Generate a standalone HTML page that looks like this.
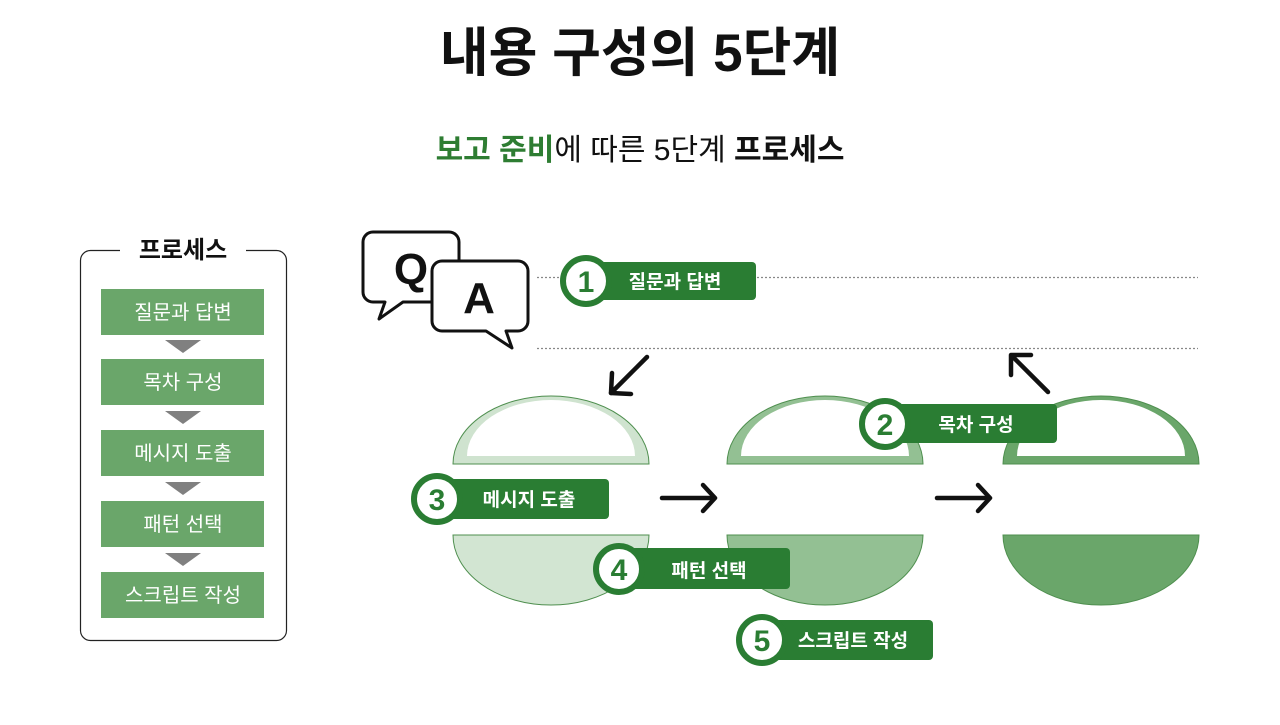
<!DOCTYPE html>
<html><head><meta charset="utf-8"><style>
body{margin:0;width:1280px;height:720px;background:#fff;overflow:hidden;font-family:"Liberation Sans","Noto Sans CJK KR",sans-serif;}
</style></head><body>
<svg width="1280" height="720" xmlns="http://www.w3.org/2000/svg" font-family="Liberation Sans, Noto Sans CJK KR, sans-serif">
<text x="640" y="71" text-anchor="middle" font-size="53" font-weight="bold" fill="#111">내용 구성의 5단계</text>
<text x="640" y="160" text-anchor="middle" font-size="30" fill="#111"><tspan font-weight="bold" fill="#2e7d32">보고 준비</tspan>에 따른 5단계 <tspan font-weight="bold">프로세스</tspan></text>

<!-- left panel -->
<rect x="80.5" y="250.5" width="206" height="390" rx="10" fill="none" stroke="#222" stroke-width="1.2"/>
<rect x="120" y="238" width="126" height="26" fill="#fff"/>
<text x="183" y="258" text-anchor="middle" font-size="24" font-weight="bold" fill="#111">프로세스</text>
<g fill="#6aa66a">
<rect x="101" y="289" width="163" height="46"/><rect x="101" y="359" width="163" height="46"/><rect x="101" y="430" width="163" height="46"/><rect x="101" y="501" width="163" height="46"/><rect x="101" y="572" width="163" height="46"/>
</g>
<g fill="#808080">
<polygon points="165,340 201,340 183,353"/><polygon points="165,411 201,411 183,424"/><polygon points="165,482 201,482 183,495"/><polygon points="165,553 201,553 183,566"/>
</g>
<g fill="#fff" font-size="20" text-anchor="middle">
<text x="183" y="319">질문과 답변</text><text x="183" y="389">목차 구성</text><text x="183" y="460">메시지 도출</text><text x="183" y="531">패턴 선택</text><text x="183" y="602">스크립트 작성</text>
</g>

<!-- dotted lines -->
<line x1="537" y1="277.5" x2="1198" y2="277.5" stroke="#888" stroke-width="1.3" stroke-dasharray="2,2"/>
<line x1="537" y1="348.5" x2="1198" y2="348.5" stroke="#888" stroke-width="1.3" stroke-dasharray="2,2"/>

<!-- QA bubbles -->
<g stroke="#111" stroke-width="3" fill="#fff" stroke-linejoin="round">
<path d="M373,232 h76 a10,10 0 0 1 10,10 v50 a10,10 0 0 1 -10,10 h-46 l-24,17 l6,-17 h-12 a10,10 0 0 1 -10,-10 v-50 a10,10 0 0 1 10,-10z"/>
<path d="M442,261 h76 a10,10 0 0 1 10,10 v50 a10,10 0 0 1 -10,10 h-12 l6,17 l-26,-17 h-44 a10,10 0 0 1 -10,-10 v-50 a10,10 0 0 1 10,-10z"/>
</g>
<text x="411" y="284" text-anchor="middle" font-size="44" font-weight="bold" fill="#111">Q</text>
<text x="479" y="313" text-anchor="middle" font-size="44" font-weight="bold" fill="#111">A</text>

<!-- shapes -->
<g stroke="#4f8f4f" stroke-width="1">
<path d="M453,464 A98,68 0 0 1 649,464 Z" fill="#cfe3cf"/>
<path d="M467,456 A84,56 0 0 1 635,456 Z" fill="#fff" stroke="none"/>
<path d="M453,535 A98,70 0 0 0 649,535 Z" fill="#d2e5d2"/>
<path d="M727,464 A98,68 0 0 1 923,464 Z" fill="#93c093"/>
<path d="M741,456 A84,56 0 0 1 909,456 Z" fill="#fff" stroke="none"/>
<path d="M727,535 A98,70 0 0 0 923,535 Z" fill="#93c093"/>
<path d="M1003,464 A98,68 0 0 1 1199,464 Z" fill="#6aa66a"/>
<path d="M1017,456 A84,56 0 0 1 1185,456 Z" fill="#fff" stroke="none"/>
<path d="M1003,535 A98,70 0 0 0 1199,535 Z" fill="#6aa66a"/>
</g>

<!-- arrows -->
<g stroke="#111" stroke-width="4.5" fill="none" stroke-linecap="round" stroke-linejoin="round">
<line x1="647" y1="357" x2="611" y2="393"/><polyline points="612,373 611,393 631,394"/>
<line x1="1048" y1="392" x2="1012" y2="356"/><polyline points="1011,375 1011,355 1031,355"/>
<line x1="662" y1="498" x2="714" y2="498"/><polyline points="703,485 715,498 703,511"/>
<line x1="937" y1="498" x2="989" y2="498"/><polyline points="978,485 990,498 978,511"/>
</g>

<!-- labels -->
<g font-weight="bold">
<rect x="586" y="262" width="170" height="38" rx="4" fill="#2a7d33"/>
<circle cx="586" cy="281" r="23" fill="#fff" stroke="#2a7d33" stroke-width="6"/>
<text x="586" y="292" text-anchor="middle" font-size="30" fill="#2a7d33">1</text>
<text x="675" y="288" text-anchor="middle" font-size="19" fill="#fff">질문과 답변</text>

<rect x="885" y="404" width="172" height="39" rx="4" fill="#2a7d33"/>
<circle cx="885" cy="424" r="23" fill="#fff" stroke="#2a7d33" stroke-width="6"/>
<text x="885" y="435" text-anchor="middle" font-size="30" fill="#2a7d33">2</text>
<text x="976" y="431" text-anchor="middle" font-size="19" fill="#fff">목차 구성</text>

<rect x="437" y="479" width="172" height="40" rx="4" fill="#2a7d33"/>
<circle cx="437" cy="499" r="23" fill="#fff" stroke="#2a7d33" stroke-width="6"/>
<text x="437" y="510" text-anchor="middle" font-size="30" fill="#2a7d33">3</text>
<text x="529" y="506" text-anchor="middle" font-size="19" fill="#fff">메시지 도출</text>

<rect x="619" y="548" width="171" height="41" rx="4" fill="#2a7d33"/>
<circle cx="619" cy="569" r="23" fill="#fff" stroke="#2a7d33" stroke-width="6"/>
<text x="619" y="580" text-anchor="middle" font-size="30" fill="#2a7d33">4</text>
<text x="709" y="577" text-anchor="middle" font-size="19" fill="#fff">패턴 선택</text>

<rect x="762" y="620" width="171" height="40" rx="4" fill="#2a7d33"/>
<circle cx="762" cy="640" r="23" fill="#fff" stroke="#2a7d33" stroke-width="6"/>
<text x="762" y="651" text-anchor="middle" font-size="30" fill="#2a7d33">5</text>
<text x="853" y="647" text-anchor="middle" font-size="19" fill="#fff">스크립트 작성</text>
</g>
</svg>
</body></html>
